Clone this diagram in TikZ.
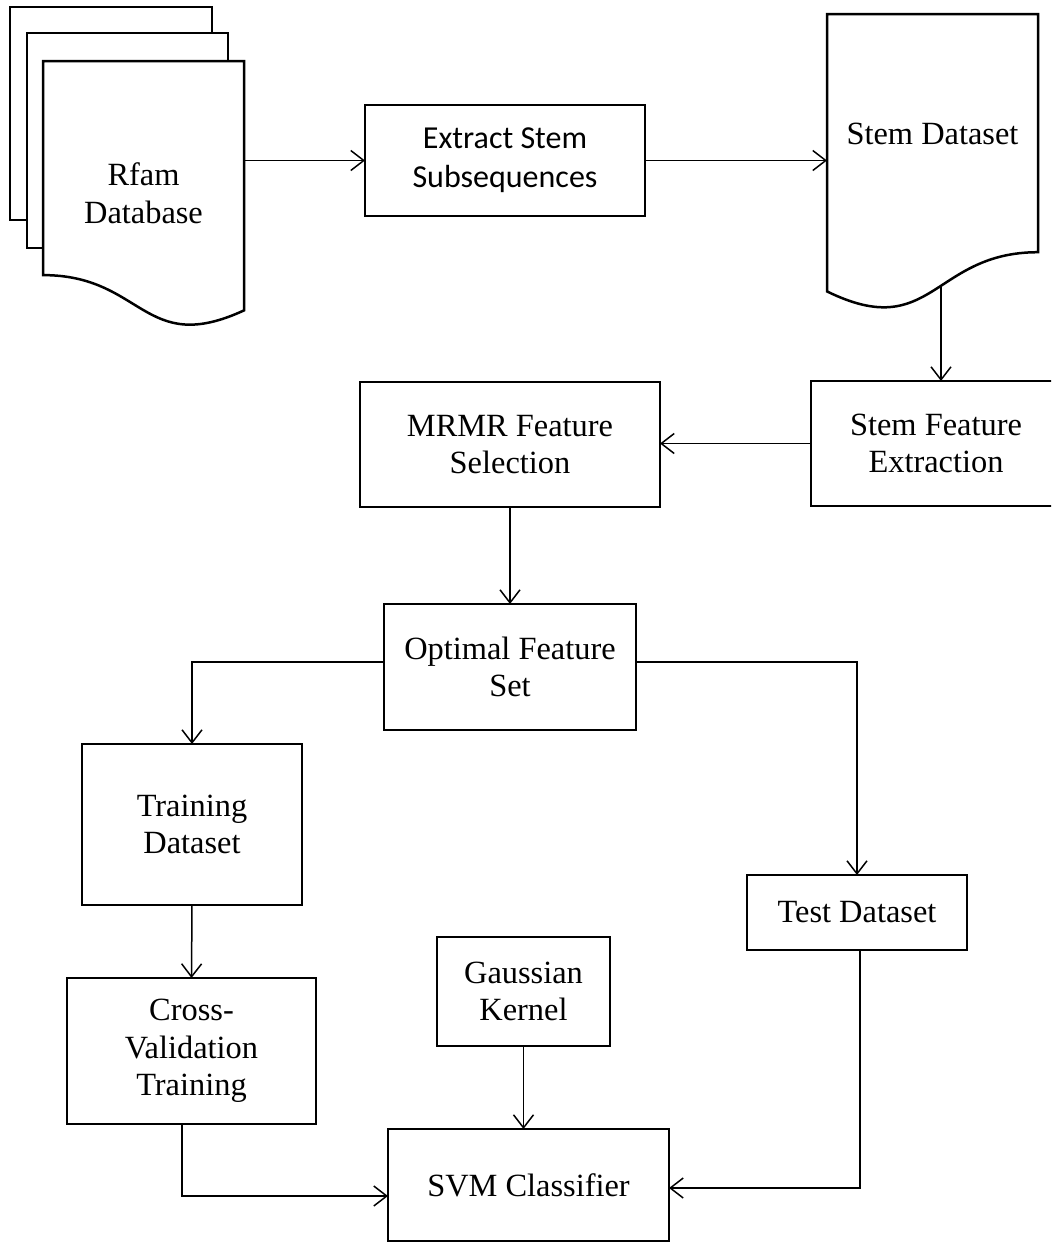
\documentclass[tikz,border=0pt]{standalone}
\usepackage{fontspec}
\setmainfont{Liberation Serif}
\newfontfamily\calibrifont{Carlito}
\usetikzlibrary{arrows.meta,calc}
\begin{document}
\begin{tikzpicture}[x=0.5pt,y=-0.5pt,
  % rect={x1}{y1}{x2}{y2}: node spanning the given corner coordinates
  rect/.style n args={4}{minimum width={(#3-#1)*0.5pt},
    minimum height={(#4-#2)*0.5pt}, at={({(#1+#3)/2},{(#2+#4)/2})}},
  box/.style={draw,line width=1.25pt,inner sep=0pt,outer sep=0pt,align=center,
    font=\fontsize{16.2}{18.8}\selectfont},
  area/.style={inner sep=0pt,outer sep=0pt,align=center,
    font=\fontsize{16.2}{18.8}\selectfont},
  page/.style={draw,line width=1.25pt,fill=white,line join=miter},
  conn/.style={line width=0.75pt,
    -{Straight Barb[length=6.5pt,width=10pt,line width=0.75pt]}}]
\clip (0,0) rectangle (1051,1249);
\fill[white] (0,0) rectangle (1051,1249);

% stacked pages of the Rfam database
\draw[page] (10,7) rectangle (212,220);
\draw[page] (27,33) rectangle (228,248);
\draw[page] (43,61) -- (244,61) -- (244,310.4)
  .. controls (143.5,356.8) and (143.5,275.1) .. (43,275.1) -- cycle;
\node[area, rect={43}{61}{244}{326}] (rfam) {Rfam\\Database};

% stem dataset document
\draw[page] (827,14) -- (1038,14) -- (1038,252.2)
  .. controls (932.5,252.2) and (932.5,343.1) .. (827,291.4) -- cycle;
\node[area, rect={827}{14}{1038}{300}] (stemds) {};
\node[area] (stemdstxt) at (932.5,134) {Stem Dataset};
\coordinate (sdfoot) at (941,286);

% process boxes
\node[box, font=\calibrifont\fontsize{16}{19.5}\selectfont,
  rect={365}{105}{645}{216}] (ext) {Extract Stem\\Subsequences};
\node[box, rect={811}{381}{1061}{506}] (sfe) {Stem Feature\\Extraction};
\node[box, rect={360}{382}{660}{507}] (mrmr) {MRMR Feature\\Selection};
\node[box, rect={384}{604}{636}{730}] (opt) {Optimal Feature\\Set};
\node[box, rect={82}{744}{302}{905}] (train) {Training\\Dataset};
\node[box, rect={67}{978}{316}{1124}] (cv) {Cross-\\Validation\\Training};
\node[box, rect={437}{937}{610}{1046}] (gk) {Gaussian\\Kernel};
\node[box, rect={747}{875}{967}{950}] (test) {Test Dataset};
\node[box, rect={388}{1129}{669}{1241}] (svm) {SVM Classifier};

% connectors
\draw[conn] (rfam.east |- ext.west) -- (ext.west);
\draw[conn] (ext.east) -- (stemds.west |- ext.east);
\draw[conn] (sdfoot) -- (sdfoot |- sfe.north);
\draw[conn] (sfe.west) -- (sfe.west -| mrmr.east);
\draw[conn] (mrmr.south) -- (opt.north);
\draw[conn] (opt.west |- 0,662) -| (train.north);
\draw[conn] (opt.east |- 0,662) -| (test.north);
\draw[conn] (train.south) -- (cv.north);
\draw[conn] (cv.south -| 182,0) |- (svm.west |- 0,1196);
\draw[conn] (gk.south) -- (gk.south |- svm.north);
\draw[conn] (test.south -| 860,0) |- (svm.east |- 0,1188);
\end{tikzpicture}
\end{document}
